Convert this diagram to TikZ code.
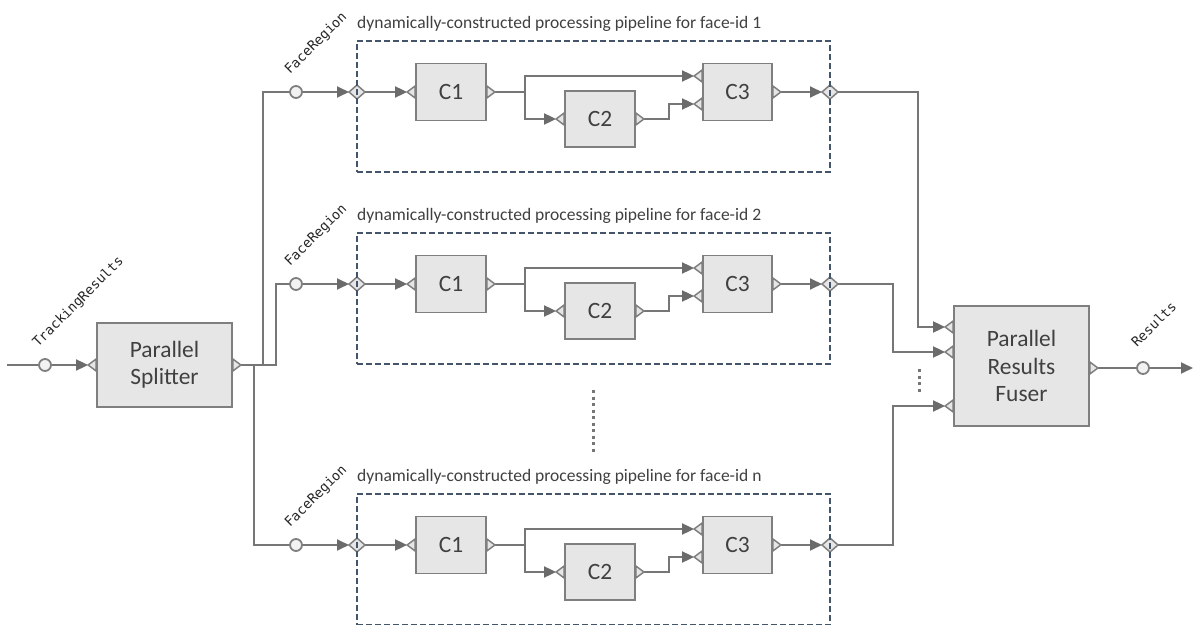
\documentclass[tikz,border=0pt]{standalone}
\usepackage{fontspec}
\setmainfont{Carlito}
\newfontfamily\monof{DejaVu Sans Mono}
\usetikzlibrary{arrows.meta,calc,shapes.geometric}
\definecolor{ln}{HTML}{767676}
\definecolor{tipc}{HTML}{6B6B6B}
\definecolor{bfill}{HTML}{E7E6E6}
\definecolor{bdraw}{HTML}{7F7F7F}
\definecolor{dashc}{HTML}{44546A}
\definecolor{txt}{HTML}{404040}
\definecolor{cfill}{HTML}{F2F2F2}
\tikzset{
  comp/.style={draw=bdraw,fill=bfill,line width=1.8bp,inner sep=0,align=center,text=txt,
    font=\fontsize{23.5}{27.5}\selectfont},
  conn/.style={draw=ln,line width=1.8bp},
  arr/.style={conn,-{Triangle[length=12bp,width=11bp,fill=tipc,color=tipc]}},
  port/.style={draw=bdraw,fill=bfill,line width=1.5bp,line join=miter},
  circ/.style={circle,draw=bdraw,fill=cfill,line width=1.8bp,minimum size=12bp,inner sep=0},
  dashbox/.style={draw=dashc,line width=1.6bp,dash pattern=on 6bp off 3bp,inner sep=0},
  monolbl/.style={rotate=45,anchor=base west,inner sep=0,text=black!85,font=\monof\fontsize{13.5}{14}\selectfont},
  ttl/.style={anchor=base west,inner sep=0,text=txt,font=\fontsize{17.6}{20}\selectfont},
  dotl/.style={draw=ln,line width=3bp,dash pattern=on 3bp off 3.5bp},
  inport/.pic={\path[port] (0,-6) -- (-8,0) -- (0,6) -- cycle;},
  outport/.pic={\path[port] (0,-6) -- (8,0) -- (0,6) -- cycle;},
  diaport/.pic={\path[port] (-8,0) -- (0,-7) -- (8,0) -- (0,7) -- cycle;}
}
\begin{document}
\begin{tikzpicture}[x=1bp,y=-1bp]
\useasboundingbox (0,0) rectangle (1193,625);

% ---------- splitter ----------
\node[comp,minimum width=135bp,minimum height=84bp] (split) at (164.5,365) {Parallel\\Splitter};
\node[circ] (tr) at (45,365) {};
\node[monolbl] (trl) at (38,348) {TrackingResults};
\coordinate (start) at (7,365);
\coordinate (spi) at ($(split.west)+(-8,0)$);
\coordinate (spo) at ($(split.east)+(8,0)$);

% ---------- fuser ----------
\node[comp,minimum width=135bp,minimum height=120bp] (fuse) at (1021.5,366) {Parallel\\Results\\Fuser};
\coordinate (fi1) at ($(fuse.west)+(-8,-39)$);
\coordinate (fi2) at ($(fuse.west)+(-8,-14)$);
\coordinate (fi3) at ($(fuse.west)+(-8,40)$);
\coordinate (fo) at ($(fuse.east)+(8,2)$);
\node[circ] (res) at (1143,368) {};
\node[monolbl] (resl) at (1137,348) {Results};
\coordinate (end) at (1193,368);

% ---------- pipelines ----------
\foreach \k/\Y in {1/92,2/284,n/545}{
  \node[ttl] (t-\k) at (357,\Y-63.5) {dynamically-constructed processing pipeline for face-id \k};
  \node[circ] (fr-\k) at (296,\Y) {};
  \node[monolbl] (frl-\k) at (290,\Y-17) {FaceRegion};
  \coordinate (din-\k) at (357,\Y);
  \coordinate (dout-\k) at (830,\Y);
  \coordinate (dinw-\k) at ($(din-\k)+(-8,0)$);
  \coordinate (dine-\k) at ($(din-\k)+(8,0)$);
  \coordinate (doutw-\k) at ($(dout-\k)+(-8,0)$);
  \coordinate (doute-\k) at ($(dout-\k)+(8,0)$);
  \pic at (din-\k) {diaport};
  \pic at (dout-\k) {diaport};
  \node[dashbox,minimum width=473bp,minimum height=131bp] (pb-\k) at (593.5,\Y+14.5) {};
  \node[comp,minimum width=70bp,minimum height=57bp] (c1-\k) at (451,\Y) {C1};
  \node[comp,minimum width=70bp,minimum height=56bp] (c2-\k) at (600,\Y+27) {C2};
  \node[comp,minimum width=69bp,minimum height=57bp] (c3-\k) at (737.5,\Y) {C3};
  \coordinate (c1i-\k) at ($(c1-\k.west)+(-8,0)$);
  \coordinate (c1o-\k) at ($(c1-\k.east)+(8,0)$);
  \coordinate (c2i-\k) at ($(c2-\k.west)+(-8,0)$);
  \coordinate (c2o-\k) at ($(c2-\k.east)+(8,0)$);
  \coordinate (c3ia-\k) at ($(c3-\k.west)+(-8,-16)$);
  \coordinate (c3ib-\k) at ($(c3-\k.west)+(-8,12)$);
  \coordinate (c3o-\k) at ($(c3-\k.east)+(8,0)$);
  \draw[arr] (fr-\k.east) -- (dinw-\k);
  \draw[arr] (dine-\k) -- (c1i-\k);
  \draw[arr] (c1o-\k) -- ++(30,0) |- (c3ia-\k);
  \draw[arr] (c1o-\k) -- ++(30,0) |- (c2i-\k);
  \draw[arr] (c2o-\k) -- ++(25,0) |- (c3ib-\k);
  \draw[arr] (c3o-\k) -- (doutw-\k);
  \pic at (c1-\k.west) {inport};
  \pic at (c1-\k.east) {outport};
  \pic at (c2-\k.west) {inport};
  \pic at (c2-\k.east) {outport};
  \pic at ($(c3-\k.west)+(0,-16)$) {inport};
  \pic at ($(c3-\k.west)+(0,12)$) {inport};
  \pic at (c3-\k.east) {outport};
}

% ---------- splitter connections ----------
\draw[conn] (start) -- (tr.west);
\draw[arr] (tr.east) -- (spi);
\draw[conn] (spo) -- ++(13,0) |- (fr-n.west);
\draw[conn] (spo) -- ++(22,0) |- (fr-1.west);
\draw[conn] (spo) -- ++(35,0) |- (fr-2.west);
\pic at (split.west) {inport};
\pic at (split.east) {outport};

% ---------- fuser connections ----------
\draw[arr] (doute-1) -- ++(80,0) |- (fi1);
\draw[arr] (doute-2) -- ++(55,0) |- (fi2);
\draw[arr] (doute-n) -- ++(55,0) |- (fi3);
\draw[conn] (fo) -- (res.west);
\draw[arr] (res.east) -- (end);
\pic at ($(fuse.west)+(0,-39)$) {inport};
\pic at ($(fuse.west)+(0,-14)$) {inport};
\pic at ($(fuse.west)+(0,40)$) {inport};
\pic at ($(fuse.east)+(0,2)$) {outport};

% ---------- ellipsis dots ----------
\coordinate (dm1) at (593,390);
\coordinate (dm2) at (593,452);
\coordinate (df1) at (919,369);
\coordinate (df2) at (919,393);
\draw[dotl] (dm1) -- (dm2);
\draw[dotl] (df1) -- (df2);
\end{tikzpicture}
\end{document}
